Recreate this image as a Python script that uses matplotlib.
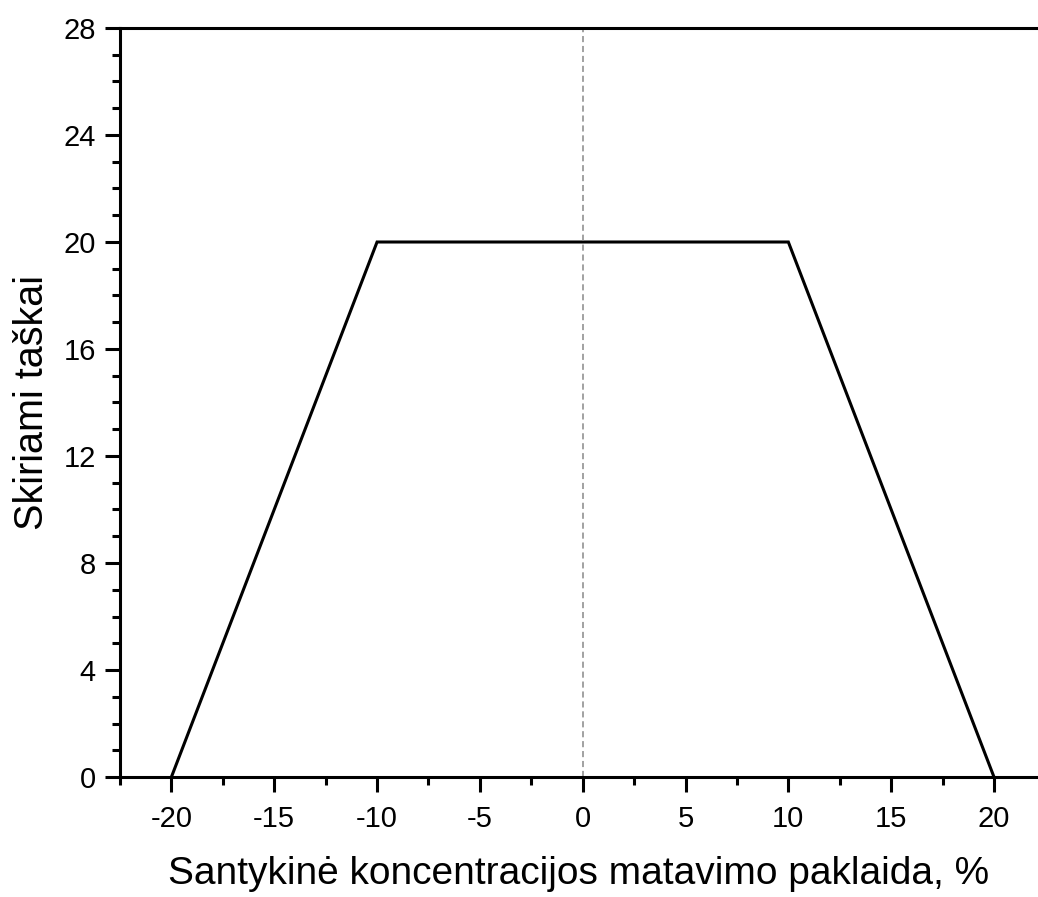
import matplotlib
matplotlib.use("Agg")
import matplotlib.pyplot as plt
from matplotlib.ticker import MultipleLocator

plt.rcParams['font.family'] = ['Liberation Sans', 'DejaVu Sans']
plt.rcParams['axes.unicode_minus'] = False

# trapezoid scoring function
paklaida = [-20, -10, 10, 20]
taskai = [0, 20, 20, 0]

fig = plt.figure(figsize=(10.38, 8.97), dpi=100)
ax = fig.add_axes([120 / 1038, 1 - 777 / 897, 1 - 120 / 1038, (777 - 28) / 897])

ax.plot(paklaida, taskai, color='black', lw=2.2, solid_joinstyle='miter')
ax.axvline(0, color='#888888', lw=1.1, ls=(0, (4, 2.5)))

ax.set_xlim(-22.5, 22.14)
ax.set_ylim(0, 28)
ax.xaxis.set_major_locator(MultipleLocator(5))
ax.xaxis.set_minor_locator(MultipleLocator(2.5))
ax.yaxis.set_major_locator(MultipleLocator(4))
ax.yaxis.set_minor_locator(MultipleLocator(1))

ax.spines['right'].set_visible(False)
for s in ['left', 'bottom', 'top']:
    ax.spines[s].set_linewidth(2.2)

ax.tick_params(which='major', direction='out', length=10.5, width=2.2, labelsize=21, pad=7)
ax.tick_params(which='minor', direction='out', length=5.5, width=2.2)
ax.tick_params(axis='x', which='both', top=False)
ax.tick_params(axis='x', pad=10)

ax.set_xlabel('Santykinė koncentracijos matavimo paklaida, %', fontsize=28, labelpad=16)
ax.set_ylabel('Skiriami taškai', fontsize=28.5, labelpad=9)

fig.savefig('out.png', dpi=100)
